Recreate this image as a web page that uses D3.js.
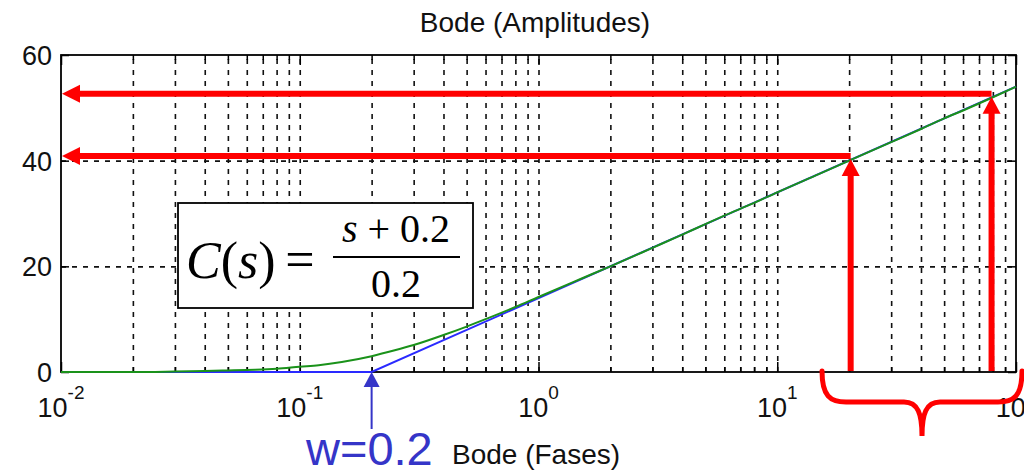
<!DOCTYPE html>
<html>
<head>
<meta charset="utf-8">
<script src="https://cdn.jsdelivr.net/npm/d3@7"></script>
<style>
  html, body { margin: 0; padding: 0; background: #fff; }
  svg { display: block; }
  .grid line { stroke: #111; stroke-width: 1.6; stroke-dasharray: 5 6; }
  .grid path { display: none; }
  .ticks path { display: none; }
  .ticks line { stroke: #000; stroke-width: 1.5; }
  .sans { font-family: "Liberation Sans", Arial, sans-serif; fill: #111; }
  .serif { font-family: "Liberation Serif", "Times New Roman", serif; fill: #000; }
</style>
</head>
<body>
<svg id="chart" width="1024" height="473"></svg>
<script>
// Magnitude response of C(s) = (s + 0.2) / 0.2
const freq  = [0.01, 0.015, 0.02, 0.03, 0.04, 0.05, 0.06, 0.08, 0.1, 0.12, 0.15, 0.2, 0.25, 0.3, 0.4, 0.5, 0.6, 0.8,
               1, 1.5, 2, 3, 4, 5, 6, 8, 10, 15, 20, 30, 40, 50, 60, 80, 100];
const magDb = [0.0, 0.0, 0.0, 0.1, 0.2, 0.3, 0.4, 0.6, 1.0, 1.3, 1.9, 3.0, 4.1, 5.1, 7.0, 8.6, 10.0, 12.3,
               14.2, 17.6, 20.0, 23.5, 26.0, 28.0, 29.6, 32.0, 34.0, 37.5, 40.0, 43.5, 46.0, 48.0, 49.5, 52.0, 54.0];

// Straight-line (asymptotic) approximation, break at w = 0.2
const asymFreq = [0.01, 0.2, 100];
const asymDb   = [0, 0, 54];

// Points with the red arrows
const readFreq = [20.3, 79];
const readDb   = [40.3, 52.1];

// Corner frequency marked below the axis
const cornerFreq = 0.2;

// Axis ticks
const yTicks = [0, 20, 40, 60];
const xMajor = [0.01, 0.1, 1, 10, 100];
const xExponents = ["-2", "-1", "0", "1", "2"];
const xMinor = [];
[0.01, 0.1, 1, 10].forEach(d => { for (let k = 2; k <= 9; k++) xMinor.push(+(d * k).toPrecision(3)); });

const svg = d3.select("#chart");
const plotL = 61, plotR = 1016, plotT = 55, plotB = 372;

const x = d3.scaleLog().domain([0.01, 100]).range([plotL, plotR]);
const y = d3.scaleLinear().domain([0, 60]).range([plotB, plotT]);

// Dashed grid
svg.append("g").attr("class", "grid")
  .attr("transform", `translate(0,${plotB})`)
  .call(d3.axisBottom(x).tickValues(xMinor.concat([0.1, 1, 10])).tickSize(-(plotB - plotT)).tickFormat(""));
svg.append("g").attr("class", "grid")
  .attr("transform", `translate(${plotL},0)`)
  .call(d3.axisLeft(y).tickValues([20, 40]).tickSize(-(plotR - plotL)).tickFormat(""));

// Inward tick marks on all four sides
const tickGroups = [
  [d3.axisBottom(x).tickValues(xMajor).tickSize(-10), `translate(0,${plotB})`],
  [d3.axisBottom(x).tickValues(xMinor).tickSize(-5), `translate(0,${plotB})`],
  [d3.axisTop(x).tickValues(xMajor).tickSize(-10), `translate(0,${plotT})`],
  [d3.axisTop(x).tickValues(xMinor).tickSize(-5), `translate(0,${plotT})`],
  [d3.axisLeft(y).tickValues(yTicks).tickSize(-8), `translate(${plotL},0)`],
  [d3.axisRight(y).tickValues(yTicks).tickSize(-8), `translate(${plotR},0)`]
];
tickGroups.forEach(([ax, tr]) => {
  svg.append("g").attr("class", "ticks").attr("transform", tr).call(ax.tickFormat(""));
});

// Frame
svg.append("rect")
  .attr("x", plotL).attr("y", plotT)
  .attr("width", plotR - plotL).attr("height", plotB - plotT)
  .attr("fill", "none").attr("stroke", "#000").attr("stroke-width", 1.8);

// Y tick labels
svg.append("g").selectAll("text").data(yTicks).join("text")
  .attr("class", "sans")
  .attr("x", 52).attr("y", d => y(d) + 10)
  .attr("text-anchor", "end")
  .attr("font-size", 27)
  .text(d => d);

// X tick labels: 10 with superscript exponent
const xl = svg.append("g").selectAll("text").data(xMajor).join("text")
  .attr("class", "sans")
  .attr("x", d => x(d)).attr("y", 417)
  .attr("text-anchor", "middle");
xl.append("tspan").attr("font-size", 27).text("10");
xl.append("tspan").attr("font-size", 19).attr("dy", -18).text((d, i) => xExponents[i]);

// Title and axis label
svg.append("text").attr("class", "sans").attr("x", 535).attr("y", 32).attr("text-anchor", "middle")
  .attr("font-size", 28).text("Bode (Amplitudes)");
svg.append("text").attr("class", "sans").attr("x", 452).attr("y", 464)
  .attr("font-size", 28).text("Bode (Fases)");

// Asymptote (blue) under the exact curve (green)
const asym = asymFreq.map((f, i) => [f, asymDb[i]]);
const curve = freq.map((f, i) => [f, magDb[i]]);
const line = d3.line().x(d => x(d[0])).y(d => y(d[1]));

svg.append("path").datum(asym)
  .attr("d", line).attr("fill", "none")
  .attr("stroke", "#2a2aff").attr("stroke-width", 2);
svg.append("path").datum(curve)
  .attr("d", d3.line().curve(d3.curveMonotoneX).x(d => x(d[0])).y(d => y(d[1])))
  .attr("fill", "none")
  .attr("stroke", "#1a921a").attr("stroke-width", 2);

// Formula box
const box = svg.append("g");
box.append("rect").attr("x", 178).attr("y", 203).attr("width", 295).attr("height", 105)
  .attr("fill", "#fff").attr("stroke", "#000").attr("stroke-width", 1.8);
const lhs = box.append("text").attr("class", "serif").attr("x", 186).attr("y", 278)
  .attr("font-size", 52);
lhs.append("tspan").attr("font-style", "italic").text("C");
lhs.append("tspan").text("(");
lhs.append("tspan").attr("font-style", "italic").text("s");
lhs.append("tspan").text(")");
box.append("text").attr("class", "serif").attr("x", 300).attr("y", 277).attr("text-anchor", "middle")
  .attr("font-size", 52).text("=");
const num = box.append("text").attr("class", "serif").attr("x", 396).attr("y", 242).attr("text-anchor", "middle")
  .attr("font-size", 40);
num.append("tspan").attr("font-style", "italic").text("s");
num.append("tspan").text(" + 0.2");
box.append("line").attr("x1", 333).attr("x2", 460).attr("y1", 257).attr("y2", 257)
  .attr("stroke", "#000").attr("stroke-width", 1.8);
box.append("text").attr("class", "serif").attr("x", 396).attr("y", 297).attr("text-anchor", "middle")
  .attr("font-size", 40).text("0.2");

// Red read-off arrows
const red = "#ff0000";
const arrows = svg.append("g");
readFreq.forEach((f, i) => {
  const px = x(f), py = y(readDb[i]);
  // vertical shaft up from the frequency axis to the curve
  arrows.append("line").attr("x1", px).attr("x2", px).attr("y1", plotB - 1).attr("y2", py + 14)
    .attr("stroke", red).attr("stroke-width", 6);
  arrows.append("path")
    .attr("d", `M${px},${py} L${px - 9},${py + 17} L${px + 9},${py + 17} Z`).attr("fill", red);
  // horizontal shaft to the magnitude axis
  arrows.append("line").attr("x1", px).attr("x2", plotL + 15).attr("y1", py - 3).attr("y2", py - 3)
    .attr("stroke", red).attr("stroke-width", 6);
  arrows.append("path")
    .attr("d", `M${plotL + 1},${py - 3} L${plotL + 19},${py - 12} L${plotL + 19},${py + 6} Z`).attr("fill", red);
});

// Brace under the high-frequency range
const bx0 = x(15.4), bx1 = x(100) + 6, bm = (bx0 + bx1) / 2;
arrows.append("path")
  .attr("d", `M${bx0},${plotB - 1} C${bx0},${plotB + 24} ${bx0 + 8},${plotB + 30} ${bx0 + 24},${plotB + 30}
              L${bm - 18},${plotB + 30} C${bm - 4},${plotB + 30} ${bm},${plotB + 42} ${bm},${plotB + 64}
              C${bm},${plotB + 42} ${bm + 4},${plotB + 30} ${bm + 18},${plotB + 30}
              L${bx1 - 24},${plotB + 30} C${bx1 - 8},${plotB + 30} ${bx1},${plotB + 24} ${bx1},${plotB - 1}`)
  .attr("fill", "none").attr("stroke", red).attr("stroke-width", 5).attr("stroke-linecap", "round");

// Corner frequency marker
const blue = "#3535c8";
const cx = x(cornerFreq);
svg.append("line").attr("x1", cx).attr("x2", cx).attr("y1", 429).attr("y2", plotB + 12)
  .attr("stroke", blue).attr("stroke-width", 2);
svg.append("path").attr("d", `M${cx},${plotB} L${cx - 8},${plotB + 15} L${cx + 8},${plotB + 15} Z`)
  .attr("fill", blue);
svg.append("text").attr("class", "sans").attr("x", 306).attr("y", 465)
  .attr("font-size", 47).style("fill", blue).text("w=0.2");
</script>
</body>
</html>
